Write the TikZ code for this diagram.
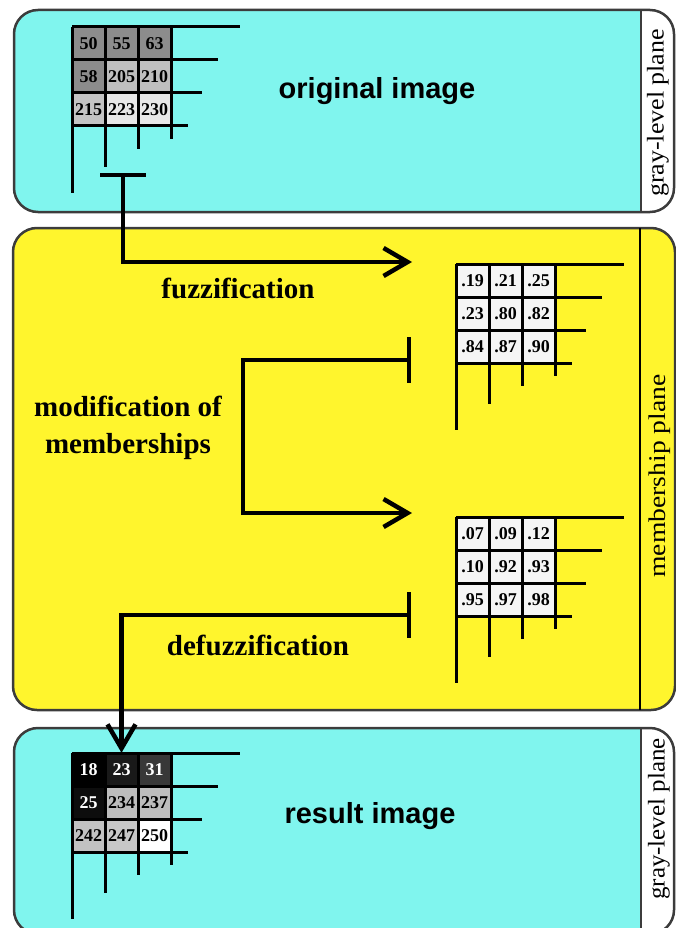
\documentclass[tikz,border=0pt]{standalone}
\usepackage{fontspec}
\setmainfont{Liberation Serif}
\newfontfamily\headfont{Liberation Sans}
\usetikzlibrary{arrows.meta,positioning}

\definecolor{planecyan}{RGB}{128,245,238}
\definecolor{planeyellow}{RGB}{255,245,45}
\definecolor{framegray}{RGB}{60,60,60}

% 3x3 pixel grid: name, origin, cells value/fill/text
\newcommand{\pixgrid}[3]{%
  \begin{scope}[shift={#2}]
    \foreach \val/\fc/\tc [count=\n from 0] in {#3} {
      \pgfmathtruncatemacro{\gr}{div(\n,3)}
      \pgfmathtruncatemacro{\gc}{mod(\n,3)}
      \node[cell,fill=\fc,text=\tc] (#1-\gr\gc) at (\gc*33+16.5,\gr*33+16.5) {\val};
    }
    \foreach \k/\l in {0/168,1/146,2/130,3/116}
      \draw[gridline] (0,\k*33) -- (\l,\k*33);
    \foreach \k/\l in {0/166,1/140,2/122,3/112}
      \draw[gridline] (\k*33,0) -- (\k*33,\l);
  \end{scope}}

\begin{document}
\begin{tikzpicture}[x=1pt,y=-1pt,
  plane/.style={draw=framegray,line width=2.5pt,rounded corners=24pt},
  divider/.style={draw=framegray,line width=2pt},
  cell/.style={minimum size=33pt,inner sep=0pt,
    font=\fontsize{18}{18}\selectfont\bfseries},
  gridline/.style={line width=3pt},
  flow/.style={arrows={Bar[width=46pt]-Straight Barb[length=24pt,width=28pt]},
    line width=4.5pt},
  steplabel/.style={font=\fontsize{29}{37}\selectfont\bfseries,align=center},
  imglabel/.style={font=\headfont\bfseries\fontsize{29}{29}\selectfont},
  planelabel/.style={rotate=90,font=\fontsize{24}{24}\selectfont}]
  \useasboundingbox (0,0) rectangle (676,928);
  \clip (0,0) rectangle (676,928);

  % planes
  \begin{scope}
    \clip (0,0) rectangle (641,220);
    \fill[planecyan,rounded corners=24pt] (14,10) rectangle (674,212);
  \end{scope}
  \draw[plane] (14,10) rectangle (674,212);
  \draw[divider] (641,10) -- (641,212);

  \draw[plane,fill=planeyellow] (13,228) rectangle (675,710);
  \draw[divider,draw=black,line width=2.5pt] (640,228) -- (640,710);

  \begin{scope}
    \clip (0,720) rectangle (641,940);
    \fill[planecyan,rounded corners=24pt] (14,728) rectangle (674,934);
  \end{scope}
  \draw[plane] (14,728) rectangle (674,934);
  \draw[divider] (641,728) -- (641,934);

  \node[planelabel] (grayA) at (658,113) {\scalebox{1.08}[1]{gray-level plane}};
  \node[planelabel] (membplane) at (660,476) {\scalebox{1.15}[1]{membership plane}};
  \node[planelabel] (grayB) at (659,819) {\scalebox{1.04}[1]{gray-level plane}};

  % grids
  \pixgrid{orig}{(72,27)}{50/black!45/black,55/black!45/black,63/black!45/black,
    58/black!45/black,205/black!25/black,210/black!25/black,
    215/black!23/black,223/black!9/black,230/black!9/black}
  \pixgrid{memb}{(456,264)}{.19/black!4/black,.21/black!4/black,.25/black!4/black,
    .23/black!4/black,.80/black!4/black,.82/black!4/black,
    .84/black!4/black,.87/black!4/black,.90/black!4/black}
  \pixgrid{modmemb}{(456,517)}{.07/black!4/black,.09/black!4/black,.12/black!4/black,
    .10/black!4/black,.92/black!4/black,.93/black!4/black,
    .95/black!4/black,.97/black!4/black,.98/black!4/black}
  \pixgrid{res}{(72,753)}{18/black/white,23/black!90/white,31/black!78/white,
    25/black!95/white,234/black!26/black,237/black!26/black,
    242/black!24/black,247/black!22/black,250/white/black}

  % labels
  \node[imglabel] (orig) at (377,91) {original image};
  \node[imglabel] (result) at (370,816) {result image};
  \node[steplabel] (fuzz) at (238,288) {fuzzification};
  \node[steplabel] (modif) at (128,428) {modification of\\memberships};
  \node[steplabel] (defuzz) at (258,645) {defuzzification};

  % connectors
  \coordinate (fuzzstart) at (123,173);
  \coordinate (fuzzend) at (412,262);
  \coordinate (modstart) at (411,360);
  \coordinate (modend) at (412,513);
  \coordinate (defuzzstart) at (411,615);
  \draw[flow] (fuzzstart) |- (fuzzend);
  \draw[flow] (modstart) -- ++(-168,0) |- (modend);
  \draw[flow] (defuzzstart) -| (res-01.north);
\end{tikzpicture}
\end{document}
